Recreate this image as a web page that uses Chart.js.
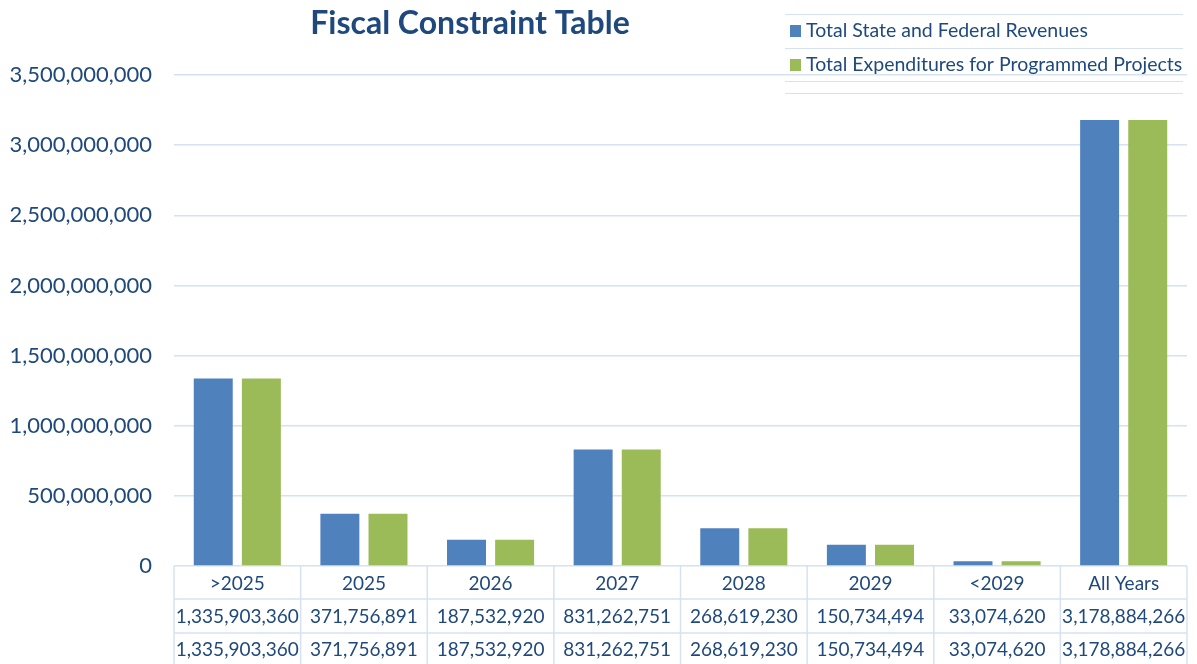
<!DOCTYPE html>
<html>
<head>
<meta charset="utf-8">
<script src="https://cdn.jsdelivr.net/npm/chart.js@4/dist/chart.umd.min.js"></script>
<style>
html,body{margin:0;padding:0;background:#fff;}
#wrap{width:1197px;height:664px;position:relative;}
</style>
</head>
<body>
<div id="wrap"><canvas id="c"></canvas></div>
<script>
const titleText = 'Fiscal Constraint Table';
const categories = ['>2025','2025','2026','2027','2028','2029','<2029','All Years'];
const seriesNames = ['Total State and Federal Revenues','Total Expenditures for Programmed Projects'];
const revenues = [1335903360, 371756891, 187532920, 831262751, 268619230, 150734494, 33074620, 3178884266];
const expenditures = [1335903360, 371756891, 187532920, 831262751, 268619230, 150734494, 33074620, 3178884266];
const yTicks = [0, 500000000, 1000000000, 1500000000, 2000000000, 2500000000, 3000000000, 3500000000];

const BLUE = '#4F81BD', GREEN = '#9BBB59', TEXT = '#1F497D', GRID = '#D6E2F1';
const FONT = 'Lato, "Open Sans", sans-serif';
const fmt = v => v.toLocaleString('en-US');

const extras = {
  id: 'extras',
  afterDraw(chart) {
    const ctx = chart.ctx, ca = chart.chartArea, xs = chart.scales.x;
    ctx.save();
    // Title
    ctx.fillStyle = TEXT;
    ctx.font = 'bold 32px ' + FONT;
    ctx.textAlign = 'center'; ctx.textBaseline = 'middle';
    ctx.fillText(titleText, 470, 24);

    // Legend
    const lx0 = 785, lx1 = 1183;
    ctx.strokeStyle = GRID; ctx.lineWidth = 1;
    [14.5, 48.5, 81.5, 93.5].forEach(y => { ctx.beginPath(); ctx.moveTo(lx0, y); ctx.lineTo(lx1, y); ctx.stroke(); });
    const colors = [BLUE, GREEN];
    ctx.font = '19.5px ' + FONT; ctx.textAlign = 'left';
    seriesNames.forEach((n, i) => {
      const cy = 31 + i * 34;
      ctx.fillStyle = colors[i];
      ctx.fillRect(790, cy - 6, 11, 12);
      ctx.fillStyle = TEXT;
      ctx.fillText(n, 806, cy);
    });

    // Data table
    const n = categories.length;
    const half = (xs.getPixelForValue(1) - xs.getPixelForValue(0)) / 2;
    const top = ca.bottom, rows = [top, 599, 633, 664];
    ctx.strokeStyle = GRID; ctx.lineWidth = 1.5;
    for (let i = 0; i <= n; i++) {
      const x = i < n ? xs.getPixelForValue(i) - half : xs.getPixelForValue(n - 1) + half;
      ctx.beginPath(); ctx.moveTo(x, top); ctx.lineTo(x, 664); ctx.stroke();
    }
    rows.slice(1, 3).forEach(y => {
      ctx.beginPath(); ctx.moveTo(ca.left, y); ctx.lineTo(xs.getPixelForValue(n - 1) + half, y); ctx.stroke();
    });
    ctx.fillStyle = TEXT; ctx.textAlign = 'center';
    ctx.font = '19px ' + FONT;
    const rowData = [categories, revenues.map(fmt), expenditures.map(fmt)];
    rowData.forEach((r, ri) => {
      const cy = (rows[ri] + rows[ri + 1]) / 2 + 1;
      r.forEach((t, i) => ctx.fillText(t, xs.getPixelForValue(i), cy));
    });
    ctx.restore();
  }
};

new Chart(document.getElementById('c'), {
  type: 'bar',
  data: {
    labels: categories,
    datasets: [
      { label: seriesNames[0], data: revenues, backgroundColor: BLUE },
      { label: seriesNames[1], data: expenditures, backgroundColor: GREEN }
    ]
  },
  options: {
    responsive: true,
    maintainAspectRatio: false,
    animation: false,
    devicePixelRatio: 1,
    layout: { padding: { top: 75, bottom: 98, right: 10, left: 0 } },
    datasets: { bar: { categoryPercentage: 0.76, barPercentage: 0.81 } },
    plugins: { legend: { display: false }, title: { display: false }, tooltip: { enabled: false } },
    scales: {
      x: { display: false },
      y: {
        min: 0, max: 3500000000,
        afterFit(s) { s.width = 174; },
        afterBuildTicks(s) { s.ticks = yTicks.map(v => ({ value: v })); },
        border: { display: false },
        grid: { color: GRID, lineWidth: 1.5, drawTicks: false },
        ticks: { color: TEXT, font: { size: 22, family: FONT }, padding: 22, callback: v => fmt(v) }
      }
    }
  },
  plugins: [extras]
});
</script>
</body>
</html>
